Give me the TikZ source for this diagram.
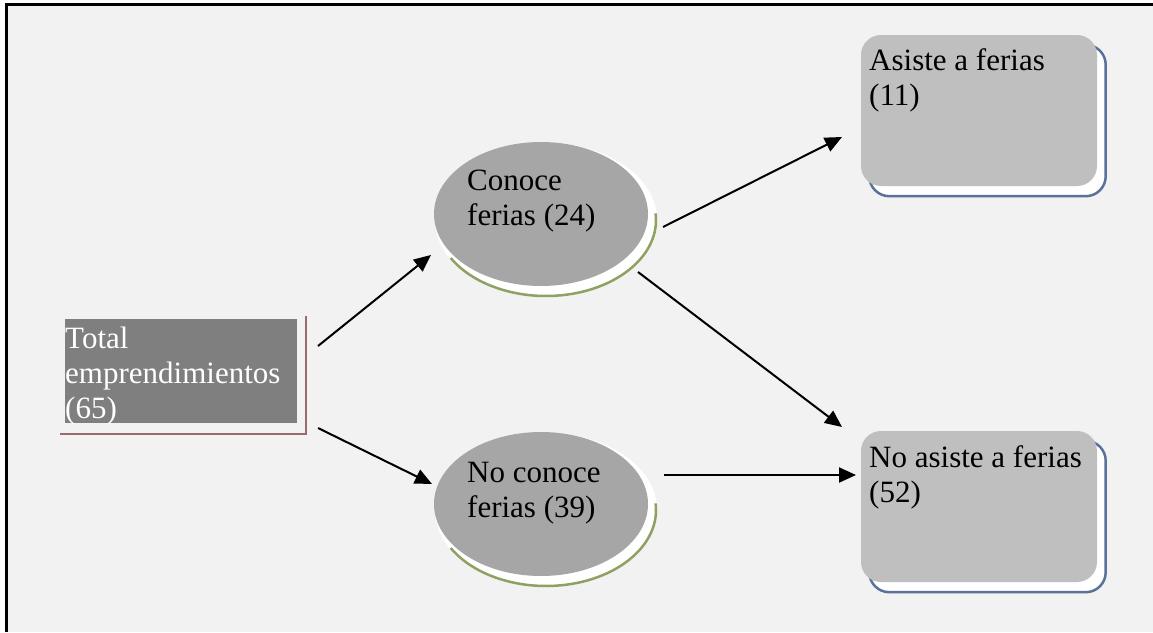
\documentclass[tikz,border=0pt]{standalone}
\usepackage{fontspec}
\setmainfont{Liberation Serif}
\usetikzlibrary{arrows.meta,backgrounds,shapes.geometric}
\definecolor{bgc}{HTML}{F2F2F2}
\definecolor{totc}{HTML}{7F7F7F}
\definecolor{ellc}{HTML}{A6A6A6}
\definecolor{boxc}{HTML}{BFBFBF}
\definecolor{shred}{HTML}{9A6B6E}
\definecolor{shgreen}{HTML}{8EA163}
\definecolor{shblue}{HTML}{5A7299}
\tikzset{
  txt/.style={font=\fontsize{31}{35}\selectfont, align=left, inner sep=0pt, anchor=base west},
  arr/.style={line width=2pt, -{Triangle[length=17pt,width=15pt]}},
  totbox/.style={rectangle, fill=totc, minimum width=232pt, minimum height=104pt, inner sep=0pt},
  ellnode/.style={ellipse, fill=ellc, minimum width=214pt, minimum height=144pt, inner sep=0pt},
  rbox/.style={rectangle, rounded corners=20pt, fill=boxc, minimum width=236pt, minimum height=151pt, inner sep=0pt},
}
\begin{document}
\begin{tikzpicture}[x=1pt,y=-1pt]
\useasboundingbox (0,0) rectangle (1153,632);
% nodes
\node[totbox] (tot) at (181,371) {};
\node[ellnode] (c1) at (541,214) {};
\node[ellnode] (c2) at (541,504) {};
\node[rbox] (a1) at (979,110.5) {};
\node[rbox] (a2) at (979,506.5) {};
% texts (base anchor = baseline of the last line)
\node[txt, text=white] (tott) at ([shift={(-116,47)}]tot.center) {Total\\emprendimientos\\(65)};
\node[txt] (c1t) at ([shift={(-74,11)}]c1.center) {Conoce\\ferias (24)};
\node[txt] (c2t) at ([shift={(-74,13)}]c2.center) {No conoce\\ferias (39)};
\node[txt] (a1t) at ([shift={(-110,-5.5)}]a1.center) {Asiste a ferias\\(11)};
\node[txt] (a2t) at ([shift={(-110,-4.5)}]a2.center) {No asiste a ferias\\(52)};
% background and shadows
\begin{pgfonlayer}{background}
\fill[white] (0,0) rectangle (1153,632);
\fill[bgc] (6,4.5) rectangle (1153,632);
\draw[shred, line width=2.5pt] ([shift={(-5,11)}]tot.south west) -- ([shift={(9,11)}]tot.south east) -- ([shift={(9,-3)}]tot.north east);
\foreach \c in {c1,c2}{
  \fill[white] ([shift={(5,6)}]\c.center) ellipse [x radius=111, y radius=77];
  \draw[shgreen, line width=2.5pt] ([shift={(5,6)}]\c.center) ++(-5:110 and 76) arc[start angle=-5, end angle=150, x radius=110, y radius=76];
}
\foreach \b in {a1,a2}{
  \filldraw[fill=white, draw=shblue, line width=2.5pt, rounded corners=20pt] ([shift={(8.5,10)}]\b.north west) rectangle ([shift={(8.5,10)}]\b.south east);
}
\end{pgfonlayer}
\draw[line width=3pt] (6,632) -- (6,4.5) -- (1153,4.5);
% connectors
\draw[arr] ([shift={(137,-25)}]tot.center) -- ([shift={(-110,41)}]c1.center);
\draw[arr] ([shift={(137,57)}]tot.center) -- ([shift={(-109,-20)}]c2.center);
\draw[arr] ([shift={(122,13)}]c1.center) -- ([shift={(-137,26.5)}]a1.center);
\draw[arr] ([shift={(97,58)}]c1.center) -- ([shift={(-137,-79.5)}]a2.center);
\draw[arr] ([shift={(123,-29)}]c2.center) -- ([shift={(-123,-31.5)}]a2.center);
\end{tikzpicture}
\end{document}
